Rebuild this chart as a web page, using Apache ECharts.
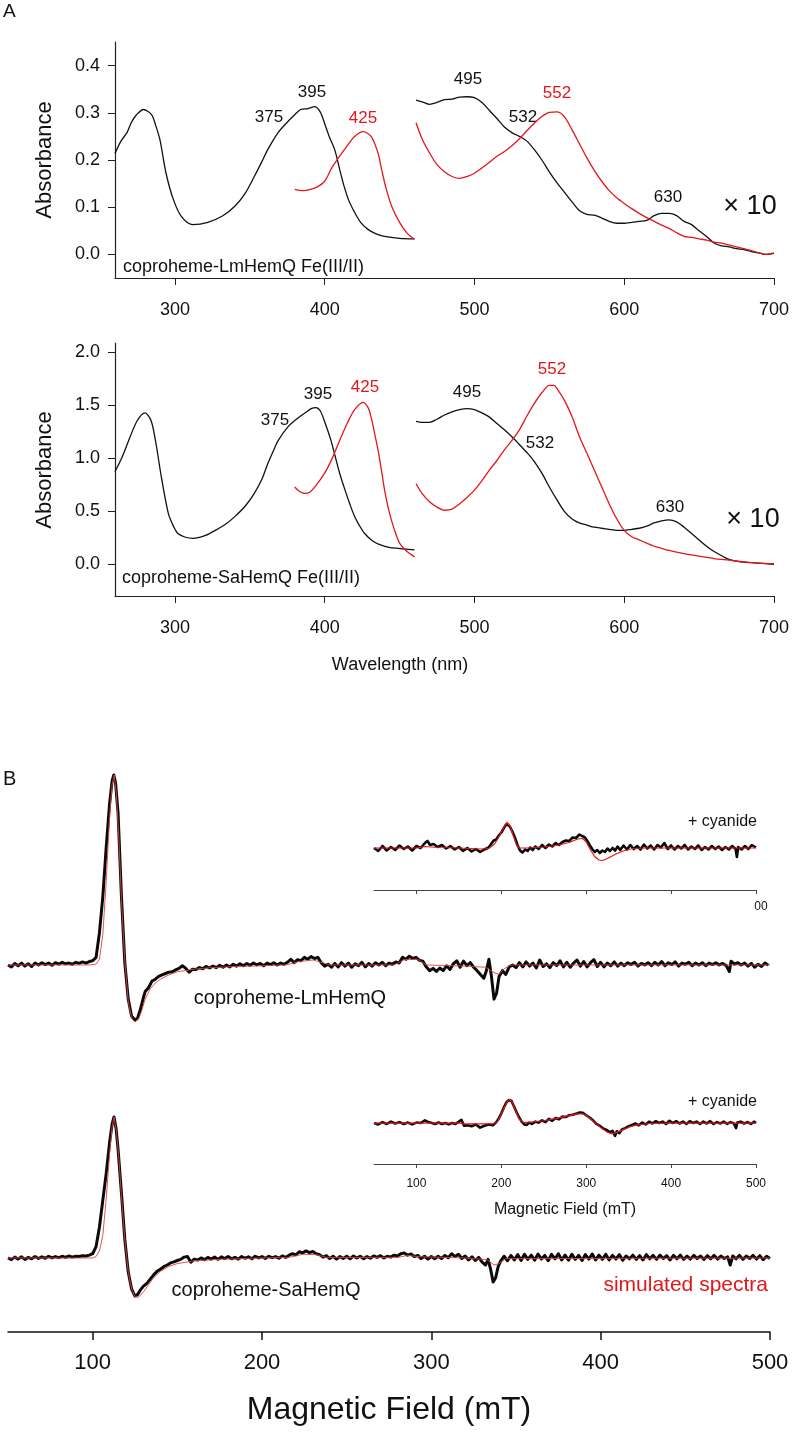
<!DOCTYPE html>
<html>
<head>
<meta charset="utf-8">
<title>coproheme HemQ spectra</title>
<script src="https://cdn.jsdelivr.net/npm/echarts@6/dist/echarts.min.js"></script>
<style>
html, body { margin: 0; padding: 0; background: #fff; }
#chart { width: 792px; height: 1445px; }
</style>
</head>
<body>
<div id="chart"></div>
<script>
// tick labels
var wlTicks = [300, 400, 500, 600, 700];
var absTicksLm = [0, 0.1, 0.2, 0.3, 0.4];
var absTicksSa = [0, 0.5, 1.0, 1.5, 2.0];
var fieldTicks = [100, 200, 300, 400, 500];

// A, top: coproheme-LmHemQ, [nm, absorbance]; Q band part is x10
var lmFe3Soret = [[260,0.214],[264,0.24],[268,0.258],[271,0.28],[274.4,0.296],[279,0.307],[284.4,0.296],[287,0.275],[290,0.243],[294,0.173],[299,0.116],[304.4,0.08],[312,0.063],[322,0.068],[332,0.082],[340,0.102],[347,0.13],[353,0.165],[358,0.196],[362,0.222],[368.9,0.258],[375.6,0.282],[380,0.296],[384,0.307],[389,0.309],[393.3,0.313],[397,0.302],[400,0.277],[403,0.25],[406.7,0.222],[410,0.18],[413,0.144],[416,0.115],[420,0.089],[424,0.068],[428.9,0.053],[434,0.044],[440,0.038],[450,0.034],[460,0.033]];
var lmFe2Soret = [[380,0.138],[385,0.135],[390,0.137],[395,0.143],[400,0.155],[405,0.185],[410,0.208],[415,0.23],[420,0.25],[425.6,0.26],[431,0.25],[435.6,0.215],[438,0.18],[441,0.14],[445,0.1],[450,0.068],[455,0.045],[460,0.032]];
var lmFe3Q = [[461,0.327],[466,0.322],[470,0.318],[475,0.322],[480,0.328],[485,0.329],[490,0.333],[495,0.334],[500,0.332],[505,0.322],[510,0.305],[515,0.288],[520,0.27],[525,0.258],[530,0.25],[535,0.24],[540,0.222],[545,0.2],[550,0.175],[555,0.152],[560,0.132],[565,0.112],[570,0.093],[575,0.085],[580,0.083],[585,0.077],[590,0.07],[595,0.066],[600,0.066],[605,0.068],[610,0.07],[615,0.072],[620,0.082],[625,0.087],[630,0.087],[635,0.082],[640,0.07],[645,0.063],[650,0.05],[655,0.038],[660,0.024],[665,0.018],[670,0.016],[675,0.012],[680,0.01],[685,0.006],[690,0.003],[695,0.0],[700,0.002]];
var lmFe2Q = [[461,0.279],[465,0.245],[470,0.215],[475,0.19],[480,0.175],[485,0.165],[490,0.161],[495,0.165],[500,0.172],[505,0.183],[510,0.195],[515,0.208],[520,0.218],[525,0.23],[530,0.245],[535,0.262],[540,0.278],[545,0.292],[550,0.301],[555,0.302],[560,0.292],[565,0.265],[570,0.235],[575,0.205],[580,0.178],[585,0.155],[590,0.135],[595,0.12],[600,0.108],[605,0.097],[610,0.087],[615,0.078],[620,0.07],[625,0.062],[630,0.055],[635,0.046],[640,0.038],[645,0.036],[650,0.033],[655,0.03],[660,0.026],[665,0.024],[670,0.02],[675,0.016],[680,0.012],[685,0.008],[690,0.003],[695,0.0],[700,0.003]];

// A, bottom: coproheme-SaHemQ
var saFe3Soret = [[260,0.874],[265,1.02],[270,1.2],[275,1.36],[280,1.43],[284,1.36],[287,1.17],[291,0.82],[295.6,0.48],[299,0.36],[302,0.29],[307,0.255],[312,0.245],[320,0.27],[327,0.32],[334,0.38],[340,0.45],[347,0.55],[353,0.67],[358,0.8],[362,0.95],[366,1.08],[369,1.17],[375.6,1.3],[382,1.38],[388,1.44],[391,1.47],[394,1.48],[397,1.45],[400.4,1.33],[404,1.18],[407,1.02],[410,0.86],[413.6,0.7],[417,0.56],[420,0.45],[423,0.37],[426.7,0.29],[432,0.22],[437.8,0.18],[443,0.16],[449,0.15],[460,0.135]];
var saFe2Soret = [[380,0.73],[383,0.69],[386.7,0.67],[390,0.68],[394,0.74],[400,0.86],[405,1.0],[410,1.17],[415,1.33],[420,1.46],[425.6,1.53],[429,1.48],[431,1.39],[433,1.26],[435.6,1.08],[438,0.88],[440,0.7],[443,0.5],[446.7,0.32],[450,0.2],[455,0.12],[460,0.07]];
var saFe3Q = [[461,1.35],[465,1.34],[470,1.34],[475,1.37],[480,1.41],[485,1.44],[490,1.46],[495,1.47],[500,1.46],[505,1.43],[510,1.39],[515,1.33],[520,1.27],[526,1.19],[532,1.1],[536,1.04],[540,0.97],[545,0.86],[550,0.73],[555,0.61],[560,0.5],[565,0.43],[570,0.39],[575,0.37],[580,0.35],[585,0.34],[590,0.33],[595,0.32],[600,0.32],[605,0.33],[610,0.34],[615,0.36],[620,0.39],[625,0.41],[630,0.42],[635,0.4],[640,0.35],[645,0.29],[650,0.23],[655,0.17],[660,0.12],[665,0.08],[670,0.045],[675,0.03],[680,0.02],[690,0.01],[700,0.0]];
var saFe2Q = [[461,0.76],[465,0.67],[470,0.59],[475,0.54],[480,0.51],[485,0.52],[490,0.57],[495,0.63],[500,0.7],[505,0.79],[510,0.89],[515,0.98],[520,1.08],[525,1.17],[530,1.27],[535,1.4],[540,1.52],[545,1.62],[550,1.69],[553,1.69],[556,1.64],[560,1.55],[565,1.4],[570,1.21],[575,1.05],[580,0.89],[585,0.73],[590,0.57],[595,0.43],[600,0.32],[605,0.26],[610,0.23],[615,0.2],[620,0.17],[625,0.15],[630,0.13],[640,0.1],[650,0.076],[660,0.054],[670,0.038],[680,0.022],[690,0.01],[700,0.005]];

// B: EPR, [mT, intensity] (normalised to the low-field peak)
var lmEpr = [[50,0.000],[52,-0.010],[54,0.008],[56,-0.004],[58,0.010],[60,-0.006],[62,0.006],[64,-0.008],[66,0.010],[68,0.000],[70,0.012],[72,0.002],[74,0.010],[76,-0.002],[78,0.012],[80,0.004],[82,0.014],[84,0.006],[86,0.010],[88,0.004],[90,0.014],[92,0.008],[94,0.016],[96,0.010],[98,0.018],[100,0.022],[102,0.040],[104,0.170],[106,0.360],[108,0.620],[110,0.850],[111.5,0.970],[112.5,1.000],[113.5,0.960],[115,0.800],[117,0.360],[119,0.010],[121,-0.180],[123,-0.270],[125,-0.290],[126.5,-0.280],[128,-0.240],[130,-0.170],[131,-0.140],[133,-0.120],[135,-0.085],[137,-0.075],[139,-0.060],[141,-0.052],[143,-0.045],[145,-0.038],[147,-0.036],[149,-0.026],[151,-0.018],[153,-0.004],[155,-0.018],[157,-0.038],[159,-0.022],[161,-0.024],[163,-0.014],[165,-0.020],[167,-0.008],[169,-0.016],[171,-0.006],[173,-0.014],[175,-0.002],[177,-0.012],[179,0.000],[181,-0.010],[183,0.004],[185,-0.006],[187,0.006],[189,-0.004],[191,0.008],[193,-0.002],[195,0.010],[197,0.000],[199,0.008],[201,-0.004],[203,0.010],[205,0.002],[207,0.012],[209,0.000],[211,0.010],[213,0.004],[215,0.014],[217,0.030],[219,0.012],[221,0.028],[223,0.022],[225,0.040],[227,0.030],[229,0.044],[231,0.034],[233,0.040],[235,0.012],[237,-0.006],[239,0.004],[241,-0.012],[243,0.008],[245,-0.010],[247,0.012],[249,-0.006],[251,0.010],[253,-0.012],[255,0.006],[257,-0.004],[259,0.014],[261,-0.010],[263,0.008],[265,-0.006],[267,0.012],[269,0.000],[271,0.014],[273,-0.004],[275,0.010],[277,0.004],[279,0.016],[281,0.010],[283,0.040],[285,0.030],[287,0.046],[289,0.034],[291,0.040],[293,0.024],[295,0.020],[297,-0.010],[299,-0.030],[301,-0.018],[303,-0.034],[305,-0.016],[307,-0.030],[309,-0.004],[311,-0.024],[313,0.006],[315,0.022],[317,-0.012],[319,0.020],[321,-0.004],[323,0.012],[325,-0.012],[327,-0.030],[329,-0.050],[331,-0.070],[332.5,-0.030],[334,0.030],[335.5,-0.060],[337,-0.180],[338.5,-0.150],[340,-0.060],[342,-0.030],[344,-0.050],[346,-0.010],[348,0.000],[350,-0.014],[352,0.012],[354,-0.010],[356,0.016],[358,-0.006],[360,0.010],[362,-0.016],[364,0.026],[366,-0.008],[368,0.006],[370,-0.014],[372,0.012],[374,-0.004],[376,0.022],[378,-0.010],[380,0.014],[382,-0.012],[384,0.010],[386,0.026],[388,-0.006],[390,0.018],[392,-0.010],[394,0.012],[396,0.028],[398,-0.008],[400,0.014],[402,-0.010],[404,0.010],[406,-0.004],[408,0.016],[410,-0.006],[412,0.010],[414,-0.004],[416,0.012],[418,0.002],[420,0.014],[422,-0.006],[424,0.008],[426,0.000],[428,0.012],[430,-0.004],[432,0.014],[434,0.000],[436,0.018],[438,-0.004],[440,0.012],[442,0.002],[444,0.016],[446,-0.006],[448,0.010],[450,0.004],[452,0.014],[454,-0.004],[456,0.010],[458,0.000],[460,0.012],[462,-0.004],[464,0.010],[466,0.002],[468,0.012],[470,0.000],[472,0.008],[474,-0.002],[476,-0.034],[477,0.020],[479,0.004],[481,0.012],[483,0.000],[485,0.010],[487,-0.006],[489,0.008],[491,-0.012],[493,0.004],[495,-0.008],[497,0.010],[499,-0.002]];
var lmEprSim = [[50,0],[98,0],[102,0.005],[104,0.03],[106,0.16],[108,0.44],[110,0.78],[111.5,0.95],[112.7,1.0],[114,0.9],[115.5,0.66],[117,0.34],[119,0.02],[121,-0.19],[123,-0.28],[125,-0.3],[127,-0.285],[129,-0.24],[131,-0.18],[134,-0.125],[137,-0.095],[140,-0.075],[145,-0.052],[150,-0.036],[160,-0.022],[170,-0.014],[185,-0.008],[200,-0.004],[214,0.0],[222,0.018],[230,0.026],[236,0.012],[240,0.0],[278,0.0],[284,0.028],[292,0.03],[297,0.0],[320,-0.006],[332,-0.012],[337,-0.04],[340,-0.05],[343,-0.02],[347,0.0],[500,0.0]];
var saEpr = [[50,0.000],[52,-0.012],[54,0.006],[56,-0.008],[58,0.008],[60,-0.010],[62,0.004],[64,-0.006],[66,0.010],[68,-0.004],[70,0.008],[72,-0.002],[74,0.012],[76,0.000],[78,0.010],[80,0.002],[82,0.012],[84,0.004],[86,0.014],[88,0.006],[90,0.012],[92,0.010],[94,0.016],[96,0.014],[98,0.020],[100,0.030],[102,0.080],[104,0.220],[106,0.410],[108,0.600],[110,0.820],[111.5,0.950],[112.6,1.000],[113.8,0.920],[115,0.770],[117,0.460],[119,0.130],[121,-0.100],[123,-0.220],[125,-0.270],[126.5,-0.260],[128,-0.230],[130,-0.200],[132,-0.180],[134,-0.150],[136,-0.120],[138,-0.095],[140,-0.080],[142,-0.062],[144,-0.050],[146,-0.035],[148,-0.028],[150,-0.018],[152,-0.010],[154,0.006],[156,0.010],[158,-0.030],[160,-0.008],[162,-0.014],[164,0.000],[166,-0.012],[168,0.004],[170,-0.008],[172,0.006],[174,-0.010],[176,0.008],[178,-0.004],[180,0.010],[182,-0.006],[184,0.004],[186,-0.008],[188,0.010],[190,-0.002],[192,0.008],[194,-0.006],[196,0.012],[198,0.000],[200,0.010],[202,-0.004],[204,0.012],[206,0.002],[208,0.010],[210,-0.002],[212,0.014],[214,0.004],[216,0.020],[218,0.030],[220,0.022],[222,0.044],[224,0.036],[226,0.050],[228,0.038],[230,0.046],[232,0.030],[234,0.024],[236,0.006],[238,0.016],[240,-0.004],[242,0.012],[244,-0.008],[246,0.010],[248,-0.004],[250,0.012],[252,-0.006],[254,0.014],[256,0.000],[258,0.012],[260,-0.006],[262,0.010],[264,-0.002],[266,0.014],[268,0.004],[270,0.016],[272,0.000],[274,0.012],[276,0.006],[278,0.020],[280,0.014],[282,0.030],[284,0.036],[286,0.020],[288,0.028],[290,0.010],[292,0.018],[294,-0.004],[296,0.012],[298,-0.008],[300,0.010],[302,-0.006],[304,0.012],[306,-0.004],[308,0.018],[310,0.002],[312,0.030],[314,0.010],[316,0.026],[318,-0.004],[320,0.014],[322,-0.014],[324,0.008],[326,-0.018],[328,0.004],[330,-0.030],[332,-0.050],[333.5,-0.010],[335,-0.080],[336.5,-0.170],[338,-0.140],[339.5,-0.060],[341,-0.020],[343,0.012],[345,-0.020],[347,0.018],[349,-0.014],[351,0.024],[353,-0.018],[355,0.026],[357,-0.010],[359,0.020],[361,-0.016],[363,0.028],[365,-0.008],[367,0.018],[369,-0.020],[371,0.026],[373,-0.006],[375,0.030],[377,-0.014],[379,0.020],[381,-0.016],[383,0.026],[385,-0.010],[387,0.018],[389,-0.018],[391,0.024],[393,-0.008],[395,0.028],[397,-0.014],[399,0.020],[401,-0.010],[403,0.026],[405,-0.014],[407,0.018],[409,-0.008],[411,0.024],[413,-0.016],[415,0.014],[417,-0.006],[419,0.020],[421,-0.010],[423,0.016],[425,-0.014],[427,0.024],[429,-0.006],[431,0.018],[433,-0.010],[435,0.020],[437,-0.004],[439,0.016],[441,-0.014],[443,0.018],[445,-0.006],[447,0.020],[449,-0.010],[451,0.014],[453,-0.008],[455,0.018],[457,-0.004],[459,0.014],[461,-0.010],[463,0.016],[465,-0.006],[467,0.018],[469,-0.008],[471,0.014],[473,-0.004],[475,0.008],[476.5,-0.050],[478,0.014],[480,-0.006],[482,0.018],[484,-0.010],[486,0.014],[488,-0.004],[490,0.018],[492,-0.008],[494,0.016],[496,-0.012],[498,0.012],[500,-0.004]];
var saEprSim = [[50,0],[100,0],[102,0.01],[104,0.05],[106,0.16],[108,0.42],[110,0.74],[111.5,0.93],[112.6,1.0],[114,0.9],[115.5,0.7],[117,0.44],[119,0.13],[121,-0.1],[123,-0.22],[125,-0.275],[127,-0.28],[130,-0.24],[133,-0.19],[136,-0.14],[140,-0.095],[145,-0.06],[150,-0.04],[160,-0.02],[175,-0.01],[200,0.0],[216,0.004],[224,0.026],[232,0.024],[238,0.004],[280,0.004],[286,0.018],[294,0.008],[320,0.0],[333,-0.012],[337,-0.05],[340,-0.04],[344,-0.005],[500,0.0]];

// B insets, + cyanide
var lmCnEpr = [[50,0.0],[55,-0.12],[60,0.08],[65,-0.1],[70,0.04],[75,-0.08],[80,0.1],[85,-0.04],[90,0.06],[95,-0.1],[100,0.08],[105,0.0],[110,0.2],[113,0.28],[116,0.12],[120,0.16],[125,0.04],[130,0.12],[135,-0.02],[140,0.08],[145,-0.06],[150,0.04],[155,-0.12],[160,0.0],[165,-0.14],[170,-0.04],[175,-0.16],[180,-0.06],[185,0.02],[188,0.16],[191,0.3],[194,0.34],[197,0.5],[200,0.62],[203,0.8],[206,0.96],[208,1.0],[210,0.86],[213,0.66],[216,0.42],[219,0.12],[222,-0.1],[225,-0.18],[228,-0.06],[231,-0.12],[234,0.02],[237,-0.08],[240,0.06],[244,-0.04],[248,0.12],[252,0.0],[256,0.14],[260,0.06],[264,0.2],[268,0.12],[272,0.24],[276,0.3],[280,0.28],[284,0.42],[288,0.4],[292,0.54],[295,0.48],[298,0.44],[301,0.3],[304,0.12],[307,-0.04],[310,-0.16],[313,-0.08],[316,-0.2],[319,-0.1],[322,-0.16],[325,-0.02],[328,-0.12],[331,0.0],[334,-0.1],[337,0.06],[340,-0.08],[344,0.1],[348,-0.06],[352,0.12],[356,-0.04],[360,0.08],[364,-0.06],[368,0.14],[372,-0.02],[376,0.1],[380,-0.06],[384,0.12],[388,0.02],[392,0.2],[396,-0.04],[400,0.1],[404,-0.06],[408,0.08],[412,-0.02],[416,0.12],[420,-0.06],[424,0.06],[428,-0.04],[432,0.1],[436,-0.08],[440,0.04],[444,-0.06],[448,0.08],[452,-0.04],[456,0.06],[460,-0.08],[464,0.04],[468,-0.06],[472,0.08],[476,-0.04],[477.5,-0.36],[479,0.04],[483,-0.06],[487,0.08],[491,-0.04],[495,0.12],[500,0.02]];
var lmCnEprSim = [[50,0.0],[100,0.0],[110,0.06],[125,0.02],[150,0.0],[175,-0.04],[185,-0.02],[192,0.16],[198,0.5],[204,0.9],[207,1.02],[210,0.9],[214,0.5],[218,0.12],[221,0.0],[230,0.0],[250,0.04],[265,0.1],[280,0.22],[290,0.36],[296,0.38],[300,0.24],[305,-0.08],[310,-0.34],[315,-0.48],[319,-0.5],[325,-0.42],[335,-0.24],[345,-0.1],[355,-0.02],[370,0.0],[500,0.0]];
var saCnEpr = [[50,0.0],[55,-0.06],[60,0.04],[65,-0.04],[70,0.06],[75,-0.02],[80,0.04],[85,-0.04],[90,0.02],[95,-0.06],[100,0.02],[105,0.0],[110,0.12],[114,0.04],[118,0.0],[122,-0.04],[126,0.02],[130,-0.04],[134,0.0],[138,-0.06],[142,0.0],[146,-0.04],[150,0.06],[153,0.14],[155,0.1],[156,-0.12],[160,-0.1],[165,-0.14],[170,-0.06],[175,-0.2],[180,-0.12],[185,-0.06],[190,-0.1],[194,0.04],[197,0.2],[200,0.42],[203,0.68],[206,0.9],[209,1.0],[212,0.96],[215,0.72],[218,0.46],[221,0.24],[224,0.06],[227,-0.06],[230,-0.08],[233,0.02],[236,-0.04],[240,0.06],[244,0.02],[248,0.12],[252,0.04],[256,0.18],[260,0.1],[264,0.22],[268,0.16],[272,0.28],[276,0.26],[280,0.34],[284,0.36],[288,0.4],[292,0.46],[296,0.44],[300,0.34],[304,0.24],[308,0.12],[312,-0.04],[316,-0.12],[320,-0.24],[324,-0.3],[328,-0.4],[331,-0.34],[334,-0.56],[336,-0.36],[339,-0.44],[342,-0.28],[346,-0.22],[350,-0.14],[354,-0.08],[358,-0.02],[362,-0.1],[366,0.02],[370,-0.06],[374,0.06],[378,-0.02],[382,0.08],[386,0.0],[390,0.06],[394,-0.04],[398,0.1],[402,0.0],[406,0.08],[410,-0.02],[414,0.06],[418,-0.04],[422,0.08],[426,0.0],[430,0.06],[434,-0.04],[438,0.06],[442,-0.02],[446,0.08],[450,-0.04],[454,0.04],[458,-0.02],[462,0.06],[466,-0.04],[470,0.04],[474,-0.02],[476.5,-0.22],[478,0.02],[482,0.06],[486,-0.02],[490,0.04],[494,-0.04],[498,0.06],[500,0.0]];
var saCnEprSim = [[50,0.0],[150,0.0],[155,-0.04],[190,-0.04],[196,0.1],[202,0.56],[207,0.95],[210,1.02],[213,0.9],[217,0.52],[221,0.18],[226,0.02],[235,0.04],[250,0.1],[265,0.2],[280,0.32],[290,0.4],[296,0.4],[302,0.3],[310,0.04],[318,-0.22],[325,-0.4],[330,-0.46],[334,-0.44],[340,-0.34],[350,-0.18],[360,-0.08],[375,-0.02],[400,0.0],[500,0.0]];

var FONT = '"Liberation Sans", Arial, sans-serif';
var RED = '#e3161b';

function spectrum(data, color, width, axis, smooth, z) {
    return {
        type: 'line', data: data, xAxisIndex: axis, yAxisIndex: axis,
        showSymbol: false, symbol: 'none', smooth: smooth, silent: true, z: z || 2,
        lineStyle: { color: color, width: width, join: 'round' }
    };
}

function text(x, y, s, size, color, opts) {
    opts = opts || {};
    return {
        type: 'text', x: x, y: y, rotation: opts.rotation || 0, silent: true,
        style: {
            text: s, fill: color || '#111', font: size + 'px ' + FONT,
            align: opts.align || 'center', verticalAlign: opts.vAlign || 'middle'
        }
    };
}

// panel A axes
function wlAxis(grid) {
    return {
        gridIndex: grid, type: 'value', min: 260, max: 700,
        axisLine: { onZero: false, lineStyle: { color: '#222', width: 1.2 } },
        axisTick: { customValues: wlTicks, length: 7, lineStyle: { color: '#222' } },
        axisLabel: { customValues: wlTicks, margin: 23, fontSize: 18, color: '#111', fontFamily: FONT },
        splitLine: { show: false }
    };
}
function absAxis(grid, min, max, ticks) {
    return {
        gridIndex: grid, type: 'value', min: min, max: max,
        axisLine: { show: true, onZero: false, lineStyle: { color: '#222', width: 1.2 } },
        axisTick: { show: true, customValues: ticks, length: 7, lineStyle: { color: '#222' } },
        axisLabel: { customValues: ticks, margin: 15, fontSize: 18, color: '#111', fontFamily: FONT,
            formatter: function (v) { return v.toFixed(1); } },
        splitLine: { show: false }
    };
}
function fieldAxis(grid, show, opts) {
    opts = opts || {};
    return {
        gridIndex: grid, type: 'value', min: 50, max: 500, show: show,
        name: opts.name || '', nameLocation: 'middle', nameGap: opts.nameGap || 0,
        nameTextStyle: { fontSize: opts.nameSize || 12, color: '#111', fontFamily: FONT },
        axisLine: { onZero: false, lineStyle: { color: opts.lineColor || '#222', width: opts.lineWidth || 1.2 } },
        axisTick: { customValues: fieldTicks, length: opts.tick || 4, lineStyle: { color: opts.lineColor || '#222', width: opts.lineWidth || 1.2 } },
        axisLabel: { show: !!opts.labels, customValues: fieldTicks, margin: opts.margin || 12,
            fontSize: opts.labelSize || 12, color: '#111', fontFamily: FONT },
        splitLine: { show: false }
    };
}
function hiddenY(grid, min, max) {
    return { gridIndex: grid, type: 'value', min: min, max: max, show: false, splitLine: { show: false } };
}

var option = {
    animation: false,
    backgroundColor: '#fff',
    textStyle: { fontFamily: FONT },
    grid: [
        { left: 115, top: 42, width: 660, height: 236 },
        { left: 115, top: 343, width: 660, height: 253 },
        { left: 8, top: 760, width: 762, height: 280 },
        { left: 8, top: 1080, width: 762, height: 252 },
        { left: 374, top: 800, width: 382, height: 90 },
        { left: 374, top: 1080, width: 382, height: 84 }
    ],
    xAxis: [
        wlAxis(0),
        wlAxis(1),
        fieldAxis(2, false),
        fieldAxis(3, true, { labels: true, labelSize: 22, margin: 20, tick: 8, lineWidth: 1.5, lineColor: '#111',
            name: 'Magnetic Field (mT)', nameSize: 32, nameGap: 62 }),
        fieldAxis(4, true, { lineColor: '#444', lineWidth: 1 }),
        fieldAxis(5, true, { labels: true, lineColor: '#444', lineWidth: 1, margin: 14,
            name: 'Magnetic Field (mT)', nameSize: 16, nameGap: 38 })
    ],
    yAxis: [
        absAxis(0, -0.05, 0.45, absTicksLm),
        absAxis(1, -0.3, 2.09, absTicksSa),
        hiddenY(2, -0.395, 1.079),
        hiddenY(3, -0.525, 1.262),
        hiddenY(4, -1.68, 1.92),
        hiddenY(5, -1.78, 1.87)
    ],
    series: [
        spectrum(lmFe3Soret, '#111', 1.3, 0, 0.3),
        spectrum(lmFe2Soret, RED, 1.3, 0, 0.3),
        spectrum(lmFe3Q, '#111', 1.3, 0, 0.3),
        spectrum(lmFe2Q, RED, 1.3, 0, 0.3),
        spectrum(saFe3Soret, '#111', 1.3, 1, 0.3),
        spectrum(saFe2Soret, RED, 1.3, 1, 0.3),
        spectrum(saFe3Q, '#111', 1.3, 1, 0.3),
        spectrum(saFe2Q, RED, 1.3, 1, 0.3),

        spectrum(lmEpr, '#0a0a0a', 3, 2, false),
        spectrum(lmEprSim, '#e0403f', 0.9, 2, false, 3),
        spectrum(saEpr, '#0a0a0a', 3, 3, false),
        spectrum(saEprSim, '#e0403f', 0.9, 3, false, 3),
        spectrum(lmCnEpr, '#0a0a0a', 2.6, 4, false),
        spectrum(lmCnEprSim, RED, 1.2, 4, false, 3),
        spectrum(saCnEpr, '#0a0a0a', 2.6, 5, false),
        spectrum(saCnEprSim, RED, 1.2, 5, false, 3)
    ],
    graphic: { elements: [
        text(3, 12, 'A', 19, '#111', { align: 'left' }),
        text(45, 160, 'Absorbance', 22, '#111', { rotation: Math.PI / 2 }),
        text(45, 470, 'Absorbance', 22, '#111', { rotation: Math.PI / 2 }),
        text(400, 665, 'Wavelength (nm)', 18),

        text(269, 117, '375', 17), text(312, 92, '395', 17), text(363, 118, '425', 17, RED),
        text(468, 79, '495', 17), text(523, 117, '532', 17), text(557, 93, '552', 17, RED),
        text(668, 197, '630', 17), text(750, 207, '× 10', 27),
        text(123, 267, 'coproheme-LmHemQ Fe(III/II)', 18, '#111', { align: 'left' }),

        text(275, 420, '375', 17), text(318, 394, '395', 17), text(365, 387, '425', 17, RED),
        text(467, 392, '495', 17), text(540, 443, '532', 17), text(552, 369, '552', 17, RED),
        text(670, 507, '630', 17), text(753, 520, '× 10', 27),
        text(122, 578, 'coproheme-SaHemQ Fe(III/II)', 18, '#111', { align: 'left' }),

        text(3, 779, 'B', 20, '#111', { align: 'left' }),
        text(757, 822, '+ cyanide', 16, '#111', { align: 'right' }),
        text(761, 907, '00', 12),
        text(290, 998, 'coproheme-LmHemQ', 20),
        text(757, 1102, '+ cyanide', 16, '#111', { align: 'right' }),
        text(266, 1290, 'coproheme-SaHemQ', 20),
        text(768, 1285, 'simulated spectra', 21, RED, { align: 'right' })
    ] }
};

var chart = echarts.init(document.getElementById('chart'));
chart.setOption(option);
window.addEventListener('resize', function () { chart.resize(); });
</script>
</body>
</html>
